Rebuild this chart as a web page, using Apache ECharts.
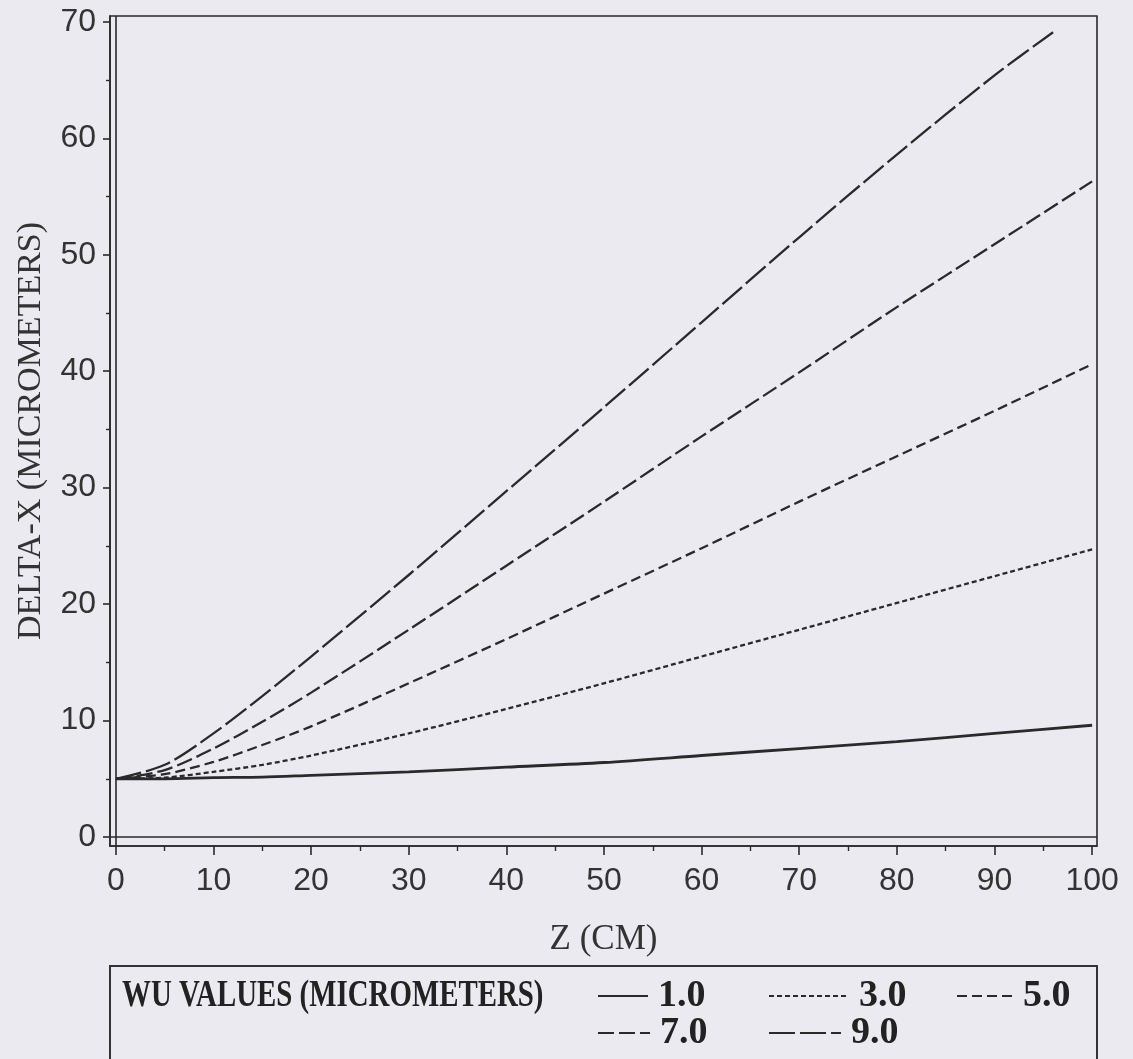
<!DOCTYPE html>
<html>
<head>
<meta charset="utf-8">
<script src="https://cdn.jsdelivr.net/npm/echarts@6/dist/echarts.min.js"></script>
<style>
html,body{margin:0;padding:0;background:#ebeaf0;}
#chart{width:1133px;height:1059px;}
</style>
</head>
<body>
<div id="chart"></div>
<script>
// Z positions (cm)
const zValues = [0, 5, 10, 15, 20, 30, 40, 50, 60, 70, 80, 90, 100];
const zValues9 = [0, 5, 10, 15, 20, 30, 40, 50, 60, 70, 80, 90, 96];
// DELTA-X (micrometers) for each WU value
const wu1 = [5.0, 5.0, 5.1, 5.15, 5.3, 5.6, 6.0, 6.4, 7.0, 7.6, 8.2, 8.9, 9.6];
const wu3 = [5.0, 5.1, 5.6, 6.2, 7.0, 8.9, 11.0, 13.2, 15.5, 17.8, 20.1, 22.4, 24.7];
const wu5 = [5.0, 5.4, 6.45, 7.9, 9.5, 13.2, 17.0, 20.9, 24.8, 28.8, 32.7, 36.6, 40.6];
const wu7 = [5.0, 5.75, 7.6, 9.9, 12.4, 17.8, 23.3, 28.8, 34.4, 39.9, 45.5, 50.9, 56.3];
const wu9 = [5.0, 6.2, 8.9, 12.1, 15.5, 22.5, 29.7, 36.9, 44.2, 51.5, 58.6, 65.4, 69.1];
const seriesNames = ['1.0', '3.0', '5.0', '7.0', '9.0'];
const xMajorTicks = [0, 10, 20, 30, 40, 50, 60, 70, 80, 90, 100];
const xMinorTicks = [5, 15, 25, 35, 45, 55, 65, 75, 85, 95];
const yMajorTicks = [0, 10, 20, 30, 40, 50, 60, 70];
const yMinorTicks = [5, 15, 25, 35, 45, 55, 65];

const ink = '#2a2a2a';
function pairs(xs, ys) { return xs.map((x, i) => [x, ys[i]]); }

const lineDefs = [
  { name: seriesNames[0], data: pairs(zValues, wu1), type: 'solid', width: 2.8 },
  { name: seriesNames[1], data: pairs(zValues, wu3), type: [5, 3], width: 2.3 },
  { name: seriesNames[2], data: pairs(zValues, wu5), type: [10, 5], width: 2.3 },
  { name: seriesNames[3], data: pairs(zValues, wu7), type: [16, 5], width: 2.3 },
  { name: seriesNames[4], data: pairs(zValues9, wu9), type: [26, 5], width: 2.3 }
];

const series = lineDefs.map((d, i) => {
  const s = {
    name: d.name,
    type: 'line',
    data: d.data,
    symbol: 'none',
    symbolSize: 0,
    smooth: 0.3,
    animation: false,
    lineStyle: { color: ink, width: d.width, type: d.type },
    itemStyle: { color: ink }
  };
  if (i === 0) {
    s.markLine = {
      silent: true,
      symbol: 'none',
      animation: false,
      label: { show: false },
      lineStyle: { color: ink, width: 1.6, type: 'solid' },
      data: [{ xAxis: 0 }, { yAxis: 0 }]
    };
  }
  return s;
});

const labelFont = { fontFamily: '"Liberation Sans", Arial, sans-serif', fontSize: 32, color: '#333' };
const legendText = { fontFamily: '"Liberation Serif", "Times New Roman", serif', fontWeight: 'bold', fontSize: 38, color: '#222', padding: [0, 0, 0, 5] };

function legendAt(name, left, top, width) {
  return {
    data: [name], left: left, top: top, itemWidth: width, itemHeight: 20,
    padding: 0, selectedMode: false, textStyle: legendText,
    itemStyle: { opacity: 0 }
  };
}

const option = {
  backgroundColor: '#ebeaf0',
  animation: false,
  grid: { left: 110, right: 36, top: 16, bottom: 213, show: true, borderColor: ink, borderWidth: 1.6, backgroundColor: 'transparent' },
  xAxis: [
    {
      type: 'value', min: -0.6, max: 100.5, position: 'bottom',
      axisLine: { show: true, onZero: false, lineStyle: { color: ink, width: 1.6 } },
      axisTick: { show: true, customValues: xMajorTicks, length: 9, lineStyle: { color: ink, width: 1.6 } },
      axisLabel: { customValues: xMajorTicks, margin: 19, ...labelFont },
      splitLine: { show: false },
      name: 'Z (CM)', nameLocation: 'middle', nameGap: 76,
      nameTextStyle: { fontFamily: '"Liberation Serif", "Times New Roman", serif', fontSize: 35, color: '#333' }
    },
    {
      type: 'value', min: -0.6, max: 100.5, position: 'bottom',
      axisLine: { show: false, onZero: false },
      axisTick: { show: true, customValues: xMinorTicks, length: 5, lineStyle: { color: ink, width: 1.4 } },
      axisLabel: { show: false },
      splitLine: { show: false }
    }
  ],
  yAxis: [
    {
      type: 'value', min: -0.77, max: 70.5, position: 'left',
      axisLine: { show: true, onZero: false, lineStyle: { color: ink, width: 1.6 } },
      axisTick: { show: true, customValues: yMajorTicks, length: 7, lineStyle: { color: ink, width: 1.6 } },
      axisLabel: { customValues: yMajorTicks, margin: 14, ...labelFont },
      splitLine: { show: false },
      name: 'DELTA-X (MICROMETERS)', nameLocation: 'middle', nameGap: 62,
      nameTextStyle: { fontFamily: '"Liberation Serif", "Times New Roman", serif', fontSize: 34, color: '#333' }
    },
    {
      type: 'value', min: -0.77, max: 70.5, position: 'left',
      axisLine: { show: false, onZero: false },
      axisTick: { show: true, customValues: yMinorTicks, length: 4, lineStyle: { color: ink, width: 1.4 } },
      axisLabel: { show: false },
      splitLine: { show: false }
    }
  ],
  legend: [
    legendAt('1.0', 597, 977, 50),
    legendAt('3.0', 768, 977, 80),
    legendAt('5.0', 956, 977, 56),
    legendAt('7.0', 597, 1014, 52),
    legendAt('9.0', 768, 1014, 72)
  ],
  graphic: [
    { type: 'rect', shape: { x: 110, y: 966, width: 987, height: 130 }, style: { fill: 'none', stroke: '#333', lineWidth: 2 }, silent: true },
    { type: 'text', x: 122, y: 996, scaleX: 0.76, silent: true,
      style: { text: 'WU VALUES (MICROMETERS)', x: 0, y: 0, fill: '#222', verticalAlign: 'middle', align: 'left',
               font: 'bold 38px "Liberation Serif", "Times New Roman", serif' } }
  ],
  series: series
};

const chart = echarts.init(document.getElementById('chart'), null, { renderer: 'canvas' });
chart.setOption(option);
</script>
</body>
</html>
